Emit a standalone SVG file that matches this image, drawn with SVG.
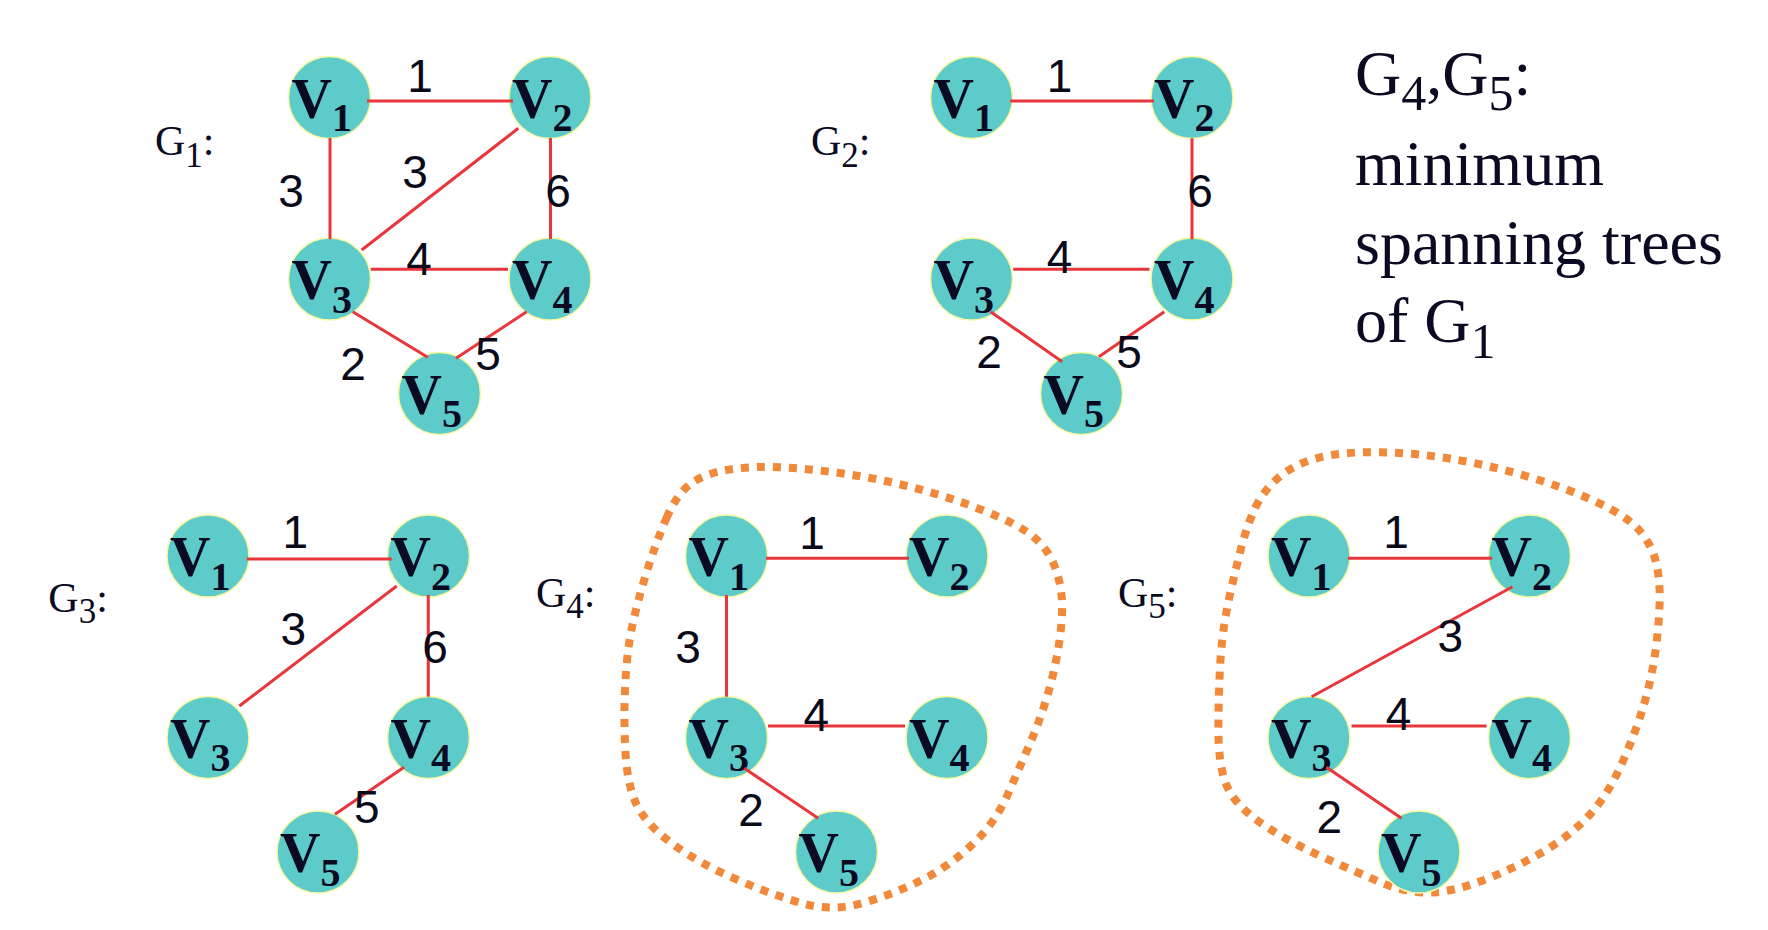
<svg xmlns="http://www.w3.org/2000/svg" width="1768" height="930" viewBox="0 0 1768 930">
<style>
.nd{fill:#5ECBCB;stroke:#F8F8A0;stroke-width:1.5}
.vl{font-family:"Liberation Serif","Times New Roman",serif;font-weight:bold;font-size:56px;fill:#0A0A22}
.vs{font-size:40px}
.e{stroke:#E8363C;stroke-width:3;fill:none}
.w{font-family:"Liberation Sans",Arial,sans-serif;font-size:46px;fill:#0A0A1A;text-anchor:middle}
.gl{font-family:"Liberation Serif","Times New Roman",serif;font-size:42px;fill:#0A0A22}
.gs{font-size:35px}
.rt{font-family:"Liberation Serif","Times New Roman",serif;font-size:64px;fill:#0A0A22}
.rs{font-size:50px}
.loop{fill:none;stroke:#F0893A;stroke-width:8;stroke-dasharray:8 8}
</style>
<rect width="1768" height="930" fill="#FFFFFF"/>

<!-- G1 -->
<g id="G1" transform="translate(329.5,97.5)">
  <g id="G1-V1"><circle class="nd" cx="0" cy="0" r="41"/><text class="vl" x="-38" y="20">V<tspan class="vs" dy="13.5">1</tspan></text></g>
  <g id="G1-V2"><circle class="nd" cx="220.5" cy="0" r="41"/><text class="vl" x="182.5" y="20">V<tspan class="vs" dy="13.5">2</tspan></text></g>
  <g id="G1-V3"><circle class="nd" cx="0" cy="181.5" r="41"/><text class="vl" x="-38" y="201.5">V<tspan class="vs" dy="13.5">3</tspan></text></g>
  <g id="G1-V4"><circle class="nd" cx="220.5" cy="181.5" r="41"/><text class="vl" x="182.5" y="201.5">V<tspan class="vs" dy="13.5">4</tspan></text></g>
  <g id="G1-V5"><circle class="nd" cx="110" cy="296" r="41"/><text class="vl" x="72" y="316">V<tspan class="vs" dy="13.5">5</tspan></text></g>
  <g id="G1-connectors">
    <line class="e" x1="37.5" y1="3.5" x2="183.5" y2="3.5"/>
    <line class="e" x1="0.5" y1="40.5" x2="0.5" y2="141.5"/>
    <line class="e" x1="221" y1="40.5" x2="221" y2="141.5"/>
    <line class="e" x1="188.8" y1="30.8" x2="32.2" y2="152.5"/>
    <line class="e" x1="41.2" y1="171.8" x2="178.5" y2="171.8"/>
    <line class="e" x1="23.2" y1="214.2" x2="98.2" y2="259.8"/>
    <line class="e" x1="197.2" y1="214.2" x2="126.5" y2="260.8"/>
  </g>
  <g id="G1-weights">
    <text class="w" x="90.5" y="-5.8">1</text>
    <text class="w" x="-38.5" y="109.2">3</text>
    <text class="w" x="85.5" y="90.8">3</text>
    <text class="w" x="228.5" y="109.2">6</text>
    <text class="w" x="89.5" y="177.5">4</text>
    <text class="w" x="23.5" y="282.5">2</text>
    <text class="w" x="158.5" y="272.5">5</text>
  </g>
</g>
<text id="G1-label" class="gl" x="155" y="155">G<tspan class="gs" dy="11.7">1</tspan><tspan dy="-11.7">:</tspan></text>

<!-- G2 -->
<g id="G2" transform="translate(971.5,97.5)">
  <g id="G2-V1"><circle class="nd" cx="0" cy="0" r="41"/><text class="vl" x="-38" y="20">V<tspan class="vs" dy="13.5">1</tspan></text></g>
  <g id="G2-V2"><circle class="nd" cx="220.5" cy="0" r="41"/><text class="vl" x="182.5" y="20">V<tspan class="vs" dy="13.5">2</tspan></text></g>
  <g id="G2-V3"><circle class="nd" cx="0" cy="181.5" r="41"/><text class="vl" x="-38" y="201.5">V<tspan class="vs" dy="13.5">3</tspan></text></g>
  <g id="G2-V4"><circle class="nd" cx="220.5" cy="181.5" r="41"/><text class="vl" x="182.5" y="201.5">V<tspan class="vs" dy="13.5">4</tspan></text></g>
  <g id="G2-V5"><circle class="nd" cx="110" cy="296" r="41"/><text class="vl" x="72" y="316">V<tspan class="vs" dy="13.5">5</tspan></text></g>
  <g id="G2-connectors">
    <line class="e" x1="38.7" y1="3.5" x2="182.5" y2="3.5"/>
    <line class="e" x1="220.5" y1="40.8" x2="220.5" y2="141.8"/>
    <line class="e" x1="41.7" y1="171.8" x2="178" y2="171.8"/>
    <line class="e" x1="19.1" y1="214.2" x2="90.7" y2="264.2"/>
    <line class="e" x1="192.8" y1="214.2" x2="127.4" y2="259.2"/>
  </g>
  <g id="G2-weights">
    <text class="w" x="88" y="-5.8">1</text>
    <text class="w" x="228.5" y="109.2">6</text>
    <text class="w" x="88" y="175.5">4</text>
    <text class="w" x="17.5" y="270.5">2</text>
    <text class="w" x="157.5" y="270.5">5</text>
  </g>
</g>
<text id="G2-label" class="gl" x="811" y="155">G<tspan class="gs" dy="11.7">2</tspan><tspan dy="-11.7">:</tspan></text>

<!-- G3 -->
<g id="G3" transform="translate(208,556)">
  <g id="G3-V1"><circle class="nd" cx="0" cy="0" r="41"/><text class="vl" x="-38" y="20">V<tspan class="vs" dy="13.5">1</tspan></text></g>
  <g id="G3-V2"><circle class="nd" cx="220.5" cy="0" r="41"/><text class="vl" x="182.5" y="20">V<tspan class="vs" dy="13.5">2</tspan></text></g>
  <g id="G3-V3"><circle class="nd" cx="0" cy="181.5" r="41"/><text class="vl" x="-38" y="201.5">V<tspan class="vs" dy="13.5">3</tspan></text></g>
  <g id="G3-V4"><circle class="nd" cx="220.5" cy="181.5" r="41"/><text class="vl" x="182.5" y="201.5">V<tspan class="vs" dy="13.5">4</tspan></text></g>
  <g id="G3-V5"><circle class="nd" cx="110" cy="296" r="41"/><text class="vl" x="72" y="316">V<tspan class="vs" dy="13.5">5</tspan></text></g>
  <g id="G3-connectors">
    <line class="e" x1="38.7" y1="3" x2="183.7" y2="3"/>
    <line class="e" x1="188.7" y1="30" x2="31.3" y2="150"/>
    <line class="e" x1="220.3" y1="39" x2="220.3" y2="140.7"/>
    <line class="e" x1="196" y1="211.3" x2="127" y2="258.3"/>
  </g>
  <g id="G3-weights">
    <text class="w" x="87.3" y="-7.7">1</text>
    <text class="w" x="85.3" y="89">3</text>
    <text class="w" x="227" y="107.3">6</text>
    <text class="w" x="158.7" y="267.3">5</text>
  </g>
</g>
<text id="G3-label" class="gl" x="48.3" y="611.7">G<tspan class="gs" dy="11.7">3</tspan><tspan dy="-11.7">:</tspan></text>

<!-- G4 -->
<path id="G4-loop" class="loop" d="M 666.4 518.3 Q 677.1 493.3 691.4 483.3 Q 705.7 473.3 728.9 469.65 Q 752.1 466 778.9 467.15 Q 805.7 468.3 841.4 473.3 Q 877.1 478.3 912.85 487.5 Q 948.6 496.7 984.3 510.85 Q 1020 525 1034.3 537.5 Q 1048.6 550 1054.8 566.65 Q 1061 583.3 1061.95 600 Q 1062.9 616.7 1059.3 641.7 Q 1055.7 666.7 1048.55 691.7 Q 1041.4 716.7 1030.7 741.7 Q 1020 766.7 1007.5 795 Q 995 823.3 971.8 845 Q 948.6 866.7 921.8 880 Q 895 893.3 864.65 902.5 Q 834.3 911.7 805.65 904.2 Q 777 896.7 737.8 880 Q 698.6 863.3 671.8 843.3 Q 645 823.3 636 803.3 Q 627 783.3 625.3 750 Q 623.6 716.7 625.3 683.35 Q 627 650 632.45 625 Q 637.9 600 646.8 571.65 Q 655.7 543.3 666.4 518.3 Z"/>
<g id="G4" transform="translate(726.5,556)">
  <g id="G4-V1"><circle class="nd" cx="0" cy="0" r="41"/><text class="vl" x="-38" y="20">V<tspan class="vs" dy="13.5">1</tspan></text></g>
  <g id="G4-V2"><circle class="nd" cx="220.5" cy="0" r="41"/><text class="vl" x="182.5" y="20">V<tspan class="vs" dy="13.5">2</tspan></text></g>
  <g id="G4-V3"><circle class="nd" cx="0" cy="181.5" r="41"/><text class="vl" x="-38" y="201.5">V<tspan class="vs" dy="13.5">3</tspan></text></g>
  <g id="G4-V4"><circle class="nd" cx="220.5" cy="181.5" r="41"/><text class="vl" x="182.5" y="201.5">V<tspan class="vs" dy="13.5">4</tspan></text></g>
  <g id="G4-V5"><circle class="nd" cx="110" cy="296" r="41"/><text class="vl" x="72" y="316">V<tspan class="vs" dy="13.5">5</tspan></text></g>
  <g id="G4-connectors">
    <line class="e" x1="39.5" y1="2.3" x2="182.5" y2="2.3"/>
    <line class="e" x1="0" y1="39" x2="0" y2="140.7"/>
    <line class="e" x1="41.5" y1="170" x2="178.5" y2="170"/>
    <line class="e" x1="17.8" y1="212.3" x2="91.7" y2="262.3"/>
  </g>
  <g id="G4-weights">
    <text class="w" x="85.5" y="-7">1</text>
    <text class="w" x="-38.5" y="107.3">3</text>
    <text class="w" x="89.9" y="175">4</text>
    <text class="w" x="24.5" y="270">2</text>
  </g>
</g>
<text id="G4-label" class="gl" x="536" y="606.7">G<tspan class="gs" dy="11.7">4</tspan><tspan dy="-11.7">:</tspan></text>

<!-- G5 -->
<path id="G5-loop" class="loop" d="M 1255.4 507.5 Q 1262.8 491.7 1277.6 478.35 Q 1292.4 465 1316.45 458.35 Q 1340.5 451.7 1377.5 452.2 Q 1414.5 452.7 1451.5 458.85 Q 1488.5 465 1525.45 475.85 Q 1562.4 486.7 1593.85 500.85 Q 1625.3 515 1638.25 529.15 Q 1651.2 543.3 1655.85 561.65 Q 1660.5 580 1659.55 605 Q 1658.6 630 1654.9 655 Q 1651.2 680 1643.8 705 Q 1636.4 730 1623.45 760 Q 1610.5 790 1593.85 810 Q 1577.2 830 1551.3 846.65 Q 1525.4 863.3 1490.3 877.5 Q 1455.2 891.7 1431.1 892.5 Q 1407 893.3 1383 883.3 Q 1359 873.3 1322 856.65 Q 1285 840 1259.1 821.65 Q 1233.2 803.3 1225.8 783.3 Q 1218.4 763.3 1218.4 730 Q 1218.4 696.7 1220.25 663.35 Q 1222.1 630 1229.5 596.65 Q 1236.9 563.3 1242.45 543.3 Q 1248 523.3 1255.4 507.5 Z"/>
<g id="G5" transform="translate(1309,556)">
  <g id="G5-V1"><circle class="nd" cx="0" cy="0" r="41"/><text class="vl" x="-38" y="20">V<tspan class="vs" dy="13.5">1</tspan></text></g>
  <g id="G5-V2"><circle class="nd" cx="220.5" cy="0" r="41"/><text class="vl" x="182.5" y="20">V<tspan class="vs" dy="13.5">2</tspan></text></g>
  <g id="G5-V3"><circle class="nd" cx="0" cy="181.5" r="41"/><text class="vl" x="-38" y="201.5">V<tspan class="vs" dy="13.5">3</tspan></text></g>
  <g id="G5-V4"><circle class="nd" cx="220.5" cy="181.5" r="41"/><text class="vl" x="182.5" y="201.5">V<tspan class="vs" dy="13.5">4</tspan></text></g>
  <g id="G5-V5"><circle class="nd" cx="110" cy="296" r="41"/><text class="vl" x="72" y="316">V<tspan class="vs" dy="13.5">5</tspan></text></g>
  <g id="G5-connectors">
    <line class="e" x1="38.9" y1="2.3" x2="183.2" y2="2.3"/>
    <line class="e" x1="203.5" y1="30.7" x2="2.6" y2="140.7"/>
    <line class="e" x1="42.6" y1="170" x2="177.6" y2="170"/>
    <line class="e" x1="17.4" y1="211.3" x2="92.5" y2="262.3"/>
  </g>
  <g id="G5-weights">
    <text class="w" x="87" y="-7.7">1</text>
    <text class="w" x="141.4" y="95.7">3</text>
    <text class="w" x="89.6" y="174">4</text>
    <text class="w" x="20.4" y="277.3">2</text>
  </g>
</g>
<text id="G5-label" class="gl" x="1118" y="606.7">G<tspan class="gs" dy="11.7">5</tspan><tspan dy="-11.7">:</tspan></text>

<!-- caption -->
<g id="caption">
  <text class="rt" x="1355" y="95">G<tspan class="rs" dy="15">4</tspan><tspan dy="-15">,G</tspan><tspan class="rs" dy="15">5</tspan><tspan dy="-15">:</tspan></text>
  <text class="rt" x="1355" y="185">minimum</text>
  <text class="rt" x="1355" y="263.5">spanning trees</text>
  <text class="rt" x="1355" y="341.7">of G<tspan class="rs" dy="16.6">1</tspan></text>
</g>
</svg>
